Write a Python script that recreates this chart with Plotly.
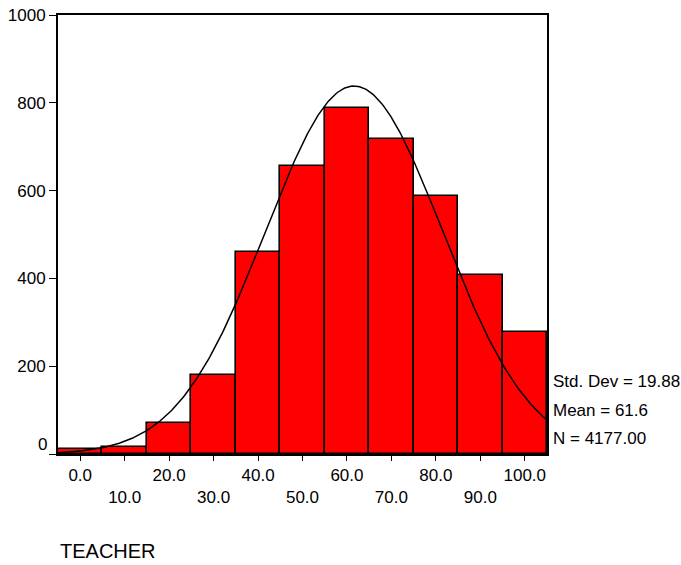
import numpy as np
import plotly.graph_objects as go

# Data
bin_centers = [0, 10, 20, 30, 40, 50, 60, 70, 80, 90, 100]
counts = [11, 17, 70, 179, 461, 657, 788, 718, 588, 408, 277]
bin_width = 10
std_dev = 19.88
mean = 61.6
n_total = 4177
y_ticks = [0, 200, 400, 600, 800, 1000]
x_even_ticks = [0, 20, 40, 60, 80, 100]
x_even_labels = ["0.0", "20.0", "40.0", "60.0", "80.0", "100.0"]
x_odd_ticks = [10, 30, 50, 70, 90]
x_odd_labels = ["10.0", "30.0", "50.0", "70.0", "90.0"]
var_name = "TEACHER"

FONT = "Liberation Sans, Arial, sans-serif"
FS = 17

# fitted normal curve (from displayed mean / std dev / N)
xs = np.linspace(-5, 105, 400)
ys = n_total * bin_width / (std_dev * np.sqrt(2 * np.pi)) * np.exp(-0.5 * ((xs - mean) / std_dev) ** 2)

fig = go.Figure()
fig.add_trace(go.Bar(
    x=bin_centers, y=counts, width=bin_width,
    marker=dict(color="#FF0000", line=dict(color="black", width=1.6)),
    showlegend=False, hoverinfo="skip",
))
fig.add_trace(go.Scatter(
    x=xs, y=ys, mode="lines", line=dict(color="black", width=1.5),
    showlegend=False, hoverinfo="skip",
))
# invisible trace for secondary x axis (odd labels)
fig.add_trace(go.Scatter(x=[None], y=[None], xaxis="x2", showlegend=False))

fig.update_layout(
    width=681, height=565,
    margin=dict(l=58, r=134, t=15, b=111),
    paper_bgcolor="white", plot_bgcolor="white",
    bargap=0,
    font=dict(family=FONT, size=FS, color="black"),
    xaxis=dict(
        range=[-5, 105], tickmode="array",
        tickvals=bin_centers,
        ticktext=[x_even_labels[x_even_ticks.index(v)] if v in x_even_ticks else "" for v in bin_centers],
        ticks="outside", ticklen=5, tickwidth=1, tickcolor="black",
        showline=True, linecolor="black", linewidth=2, mirror=True,
        showgrid=False, zeroline=False, fixedrange=True, automargin=False,
        tickfont=dict(size=FS),
    ),
    xaxis2=dict(
        range=[-5, 105], overlaying="x", side="bottom", anchor="y",
        tickmode="array", tickvals=x_odd_ticks, ticktext=x_odd_labels,
        ticks="", showline=False, showgrid=False, zeroline=False, automargin=False,
        ticklabelstandoff=31, tickfont=dict(size=FS),
    ),
    yaxis=dict(
        range=[0, 1000], tickmode="array", tickvals=y_ticks,
        ticktext=["" if v == 0 else str(v) for v in y_ticks],
        ticks="outside", ticklen=7, tickwidth=1, tickcolor="black",
        showline=True, linecolor="black", linewidth=2, mirror=True,
        showgrid=False, zeroline=False, fixedrange=True, automargin=False,
        tickfont=dict(size=FS),
    ),
    annotations=[
        dict(text="0", x=0, xref="paper", y=0, yref="y", xanchor="right", yanchor="middle",
             xshift=-9, yshift=10, showarrow=False, font=dict(size=FS)),
        dict(text="Std. Dev = %.2f" % std_dev, x=1, xref="paper", xshift=4, y=381, yref="paper",
             showarrow=False, xanchor="left", yanchor="middle", font=dict(size=FS)),
        dict(text="Mean = %.1f" % mean, x=1, xref="paper", xshift=4, y=410, yref="paper",
             showarrow=False, xanchor="left", yanchor="middle", font=dict(size=FS)),
        dict(text="N = %.2f" % n_total, x=1, xref="paper", xshift=4, y=438, yref="paper",
             showarrow=False, xanchor="left", yanchor="middle", font=dict(size=FS)),
        dict(text=var_name, x=0, xref="paper", xshift=0, y=0, yref="paper", yshift=-97,
             showarrow=False, xanchor="left", yanchor="middle", font=dict(size=20)),
    ],
)

# convert stats pixel positions to paper coords
plot_top, plot_bottom = 15, 454
for ann in fig.layout.annotations[1:4]:
    ann.y = (plot_bottom - ann.y) / (plot_bottom - plot_top)

fig.write_html("out.html")
